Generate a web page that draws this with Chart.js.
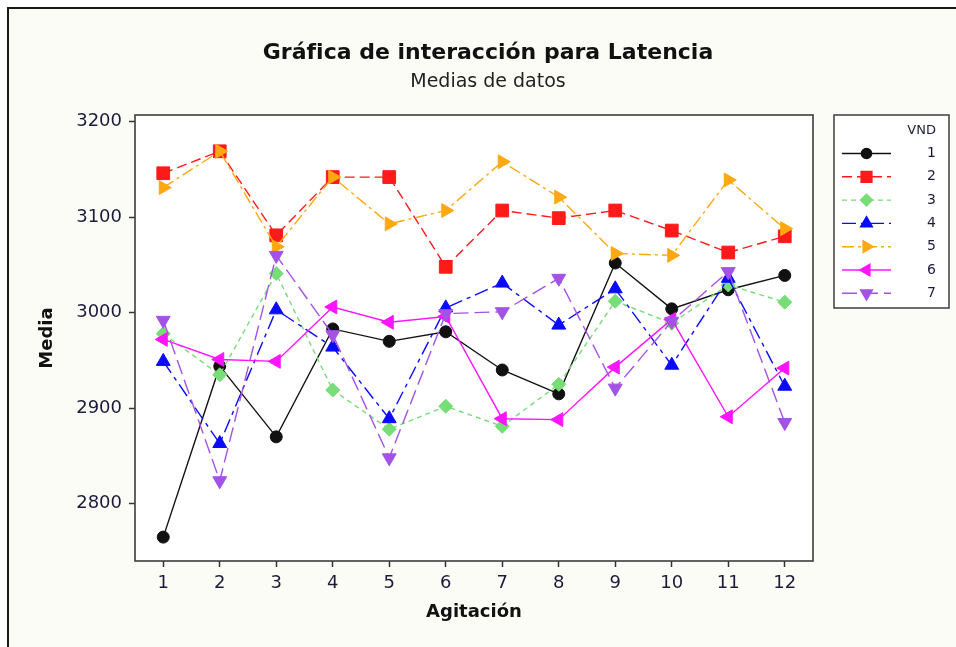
<!DOCTYPE html>
<html lang="es">
<head>
<meta charset="UTF-8">
<title>Gráfica de interacción para Latencia</title>
<script src="https://cdn.jsdelivr.net/npm/chart.js"></script>
<style>
  html, body { margin: 0; padding: 0; background: #fff; }
  canvas { display: block; }
</style>
</head>
<body>
<canvas id="grafica" width="956" height="647"></canvas>
<script>
// Medias de Latencia por nivel de Agitación, una serie por VND
const agitacion = ['1', '2', '3', '4', '5', '6', '7', '8', '9', '10', '11', '12'];
const vnd1 = [2765, 2944, 2870, 2983, 2970, 2980, 2940, 2915, 3052, 3004, 3024, 3039];
const vnd2 = [3146, 3169, 3081, 3142, 3142, 3048, 3107, 3099, 3107, 3086, 3063, 3080];
const vnd3 = [2978, 2935, 3041, 2919, 2878, 2902, 2881, 2925, 3012, 2989, 3029, 3011];
const vnd4 = [2949, 2863, 3003, 2964, 2889, 3005, 3031, 2987, 3025, 2945, 3036, 2923];
const vnd5 = [3131, 3169, 3069, 3142, 3093, 3107, 3158, 3121, 3062, 3060, 3139, 3088];
const vnd6 = [2972, 2951, 2949, 3006, 2990, 2996, 2889, 2888, 2943, 2993, 2891, 2942];
const vnd7 = [2992, 2824, 3060, 2977, 2848, 2999, 3001, 3036, 2921, 2991, 3043, 2885];
const nombresVnd = ['1', '2', '3', '4', '5', '6', '7'];
const ticksMedia = [2800, 2900, 3000, 3100, 3200];

const series = [vnd1, vnd2, vnd3, vnd4, vnd5, vnd6, vnd7];

// estilo de cada serie: color, tipo de trazo y símbolo
const estilos = [
  { color: '#111111', dash: [],             simbolo: 'circle',   giro: 0,   radio: 6 },
  { color: '#ff1a1a', dash: [10, 5],        simbolo: 'rect',     giro: 0,   radio: 9 },
  { color: '#77dd77', dash: [5, 4],         simbolo: 'rectRot',  giro: 0,   radio: 7 },
  { color: '#0a0aff', dash: [14, 5, 4, 5],  simbolo: 'triangle', giro: 0,   radio: 8 },
  { color: '#ffa812', dash: [12, 4, 3, 4],  simbolo: 'triangle', giro: 90,  radio: 8 },
  { color: '#ff14ff', dash: [],             simbolo: 'triangle', giro: -90, radio: 8 },
  { color: '#a452e6', dash: [15, 6],        simbolo: 'triangle', giro: 180, radio: 8 }
];

const fuente = 'DejaVu Sans';
const colorTexto = '#1c1c3a';

const datasets = series.map((valores, i) => ({
  label: nombresVnd[i],
  data: valores,
  borderColor: estilos[i].color,
  backgroundColor: estilos[i].color,
  borderWidth: 1.4,
  borderDash: estilos[i].dash,
  pointStyle: estilos[i].simbolo,
  pointRotation: estilos[i].giro,
  pointRadius: estilos[i].radio,
  pointHoverRadius: estilos[i].radio,
  pointBorderWidth: 1,
  tension: 0,
  order: series.length - i
}));

// fondo, marco, títulos y leyenda
const marco = {
  id: 'marco',
  beforeDraw(chart) {
    const { ctx, width, height, chartArea: a } = chart;
    ctx.save();
    ctx.fillStyle = '#ffffff';
    ctx.fillRect(0, 0, width, height);
    ctx.fillStyle = '#fcfcf6';
    ctx.fillRect(8, 7, width - 8, height - 7);
    ctx.strokeStyle = '#1a1a1a';
    ctx.lineWidth = 2;
    ctx.beginPath();
    ctx.moveTo(8, height);
    ctx.lineTo(8, 8);
    ctx.lineTo(width, 8);
    ctx.stroke();
    ctx.fillStyle = '#ffffff';
    ctx.fillRect(a.left, a.top, a.right - a.left, a.bottom - a.top);
    ctx.restore();
  },
  afterDraw(chart) {
    const { ctx, chartArea: a } = chart;
    ctx.save();
    ctx.strokeStyle = '#3c3c3c';
    ctx.lineWidth = 1.6;
    ctx.strokeRect(a.left, a.top, a.right - a.left, a.bottom - a.top);

    ctx.fillStyle = '#111111';
    ctx.textAlign = 'center';
    ctx.textBaseline = 'middle';
    ctx.font = 'bold 22px "' + fuente + '"';
    ctx.fillText('Gráfica de interacción para Latencia', 488, 53);
    ctx.fillStyle = '#222222';
    ctx.font = '19px "' + fuente + '"';
    ctx.fillText('Medias de datos', 488, 82);

    // leyenda
    const lx = 834, ly = 115, lw = 115, lh = 193;
    ctx.fillStyle = '#ffffff';
    ctx.fillRect(lx, ly, lw, lh);
    ctx.strokeStyle = '#3c3c3c';
    ctx.lineWidth = 1.5;
    ctx.strokeRect(lx, ly, lw, lh);
    ctx.fillStyle = colorTexto;
    ctx.textAlign = 'right';
    ctx.font = '13px "' + fuente + '"';
    ctx.fillText('VND', 936, 131);
    chart.data.datasets.forEach((ds, i) => {
      const y = 153.5 + i * 23.3;
      const e = estilos[i];
      ctx.strokeStyle = ds.borderColor;
      ctx.lineWidth = 1.4;
      ctx.setLineDash(ds.borderDash);
      ctx.beginPath();
      ctx.moveTo(842, y);
      ctx.lineTo(891, y);
      ctx.stroke();
      ctx.setLineDash([]);
      ctx.fillStyle = ds.backgroundColor;
      Chart.helpers.drawPoint(ctx, {
        pointStyle: ds.pointStyle,
        rotation: ds.pointRotation,
        radius: e.radio * 0.85,
        borderWidth: 1
      }, 866.5, y);
      ctx.fillStyle = colorTexto;
      ctx.font = '14px "' + fuente + '"';
      ctx.fillText(ds.label, 936, y);
    });
    ctx.restore();
  }
};

new Chart(document.getElementById('grafica'), {
  type: 'line',
  data: { labels: agitacion, datasets: datasets },
  plugins: [marco],
  options: {
    responsive: false,
    animation: false,
    layout: { padding: { top: 115, right: 143, left: 0, bottom: 0 } },
    plugins: {
      legend: { display: false },
      title: { display: false },
      tooltip: { enabled: false }
    },
    scales: {
      x: {
        type: 'category',
        offset: true,
        border: { display: false },
        grid: { display: true, drawOnChartArea: false, drawTicks: true, offset: false,
                tickLength: 6, tickColor: '#333333', tickWidth: 1.5 },
        ticks: { color: colorTexto, padding: 6, maxRotation: 0,
                 font: { family: fuente, size: 18 } },
        title: { display: true, text: 'Agitación', color: '#111111',
                 font: { family: fuente, size: 18, weight: 'bold' },
                 padding: { top: 0, bottom: 24 } },
        afterFit(scale) { scale.height = 86; }
      },
      y: {
        min: 2740,
        max: 3207,
        border: { display: false },
        grid: { display: true, drawOnChartArea: false, drawTicks: true,
                tickLength: 6, tickColor: '#333333', tickWidth: 1.5 },
        ticks: { color: colorTexto, padding: 7,
                 font: { family: fuente, size: 18 },
                 callback: v => String(v) },
        afterBuildTicks(scale) { scale.ticks = ticksMedia.map(v => ({ value: v })); },
        title: { display: true, text: 'Media', color: '#111111',
                 font: { family: fuente, size: 18, weight: 'bold' },
                 padding: { top: 37, bottom: 0 } },
        afterFit(scale) { scale.width = 135; }
      }
    }
  }
});
</script>
</body>
</html>
